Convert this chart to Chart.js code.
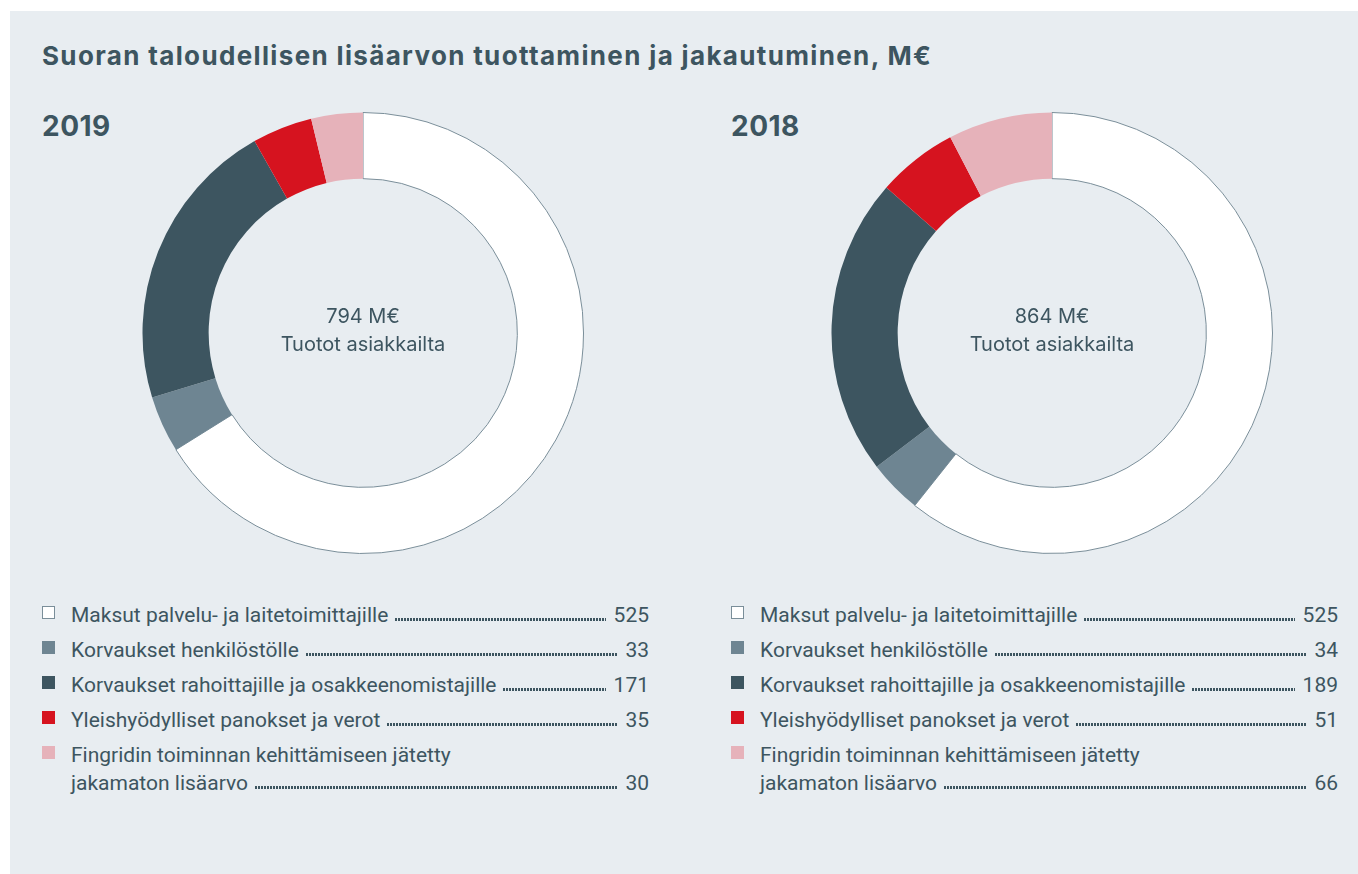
<!DOCTYPE html>
<html>
<head>
<meta charset="utf-8">
<script src="https://cdn.jsdelivr.net/npm/chart.js@4/dist/chart.umd.min.js"></script>
<style>
  body { margin: 0; background: #fff; font-family: Inter, Roboto, sans-serif; color: #3d5560; }
  #panel { position: absolute; left: 10px; top: 11px; width: 1348px; height: 863px; background: #e8edf1; }
  h1 { position: absolute; left: 42px; top: 40px; margin: 0; font-size: 26px; letter-spacing: 1.35px; font-weight: 700; white-space: nowrap; }
  .year { position: absolute; top: 109px; font-size: 28px; letter-spacing: 0.5px; font-weight: 700; }
  .wrap { position: absolute; top: 112px; width: 442px; height: 442px; }
  .center { position: absolute; width: 300px; text-align: center; font-size: 20px; line-height: 28px; top: 302px; }
  .legend { position: absolute; top: 594px; width: 607px; font-size: 21px; font-family: Roboto, sans-serif; }
  .row { position: relative; height: 35px; display: flex; align-items: flex-end; }
  .row.two { height: 63px; }
  .sq { position: absolute; left: 0; top: 12px; width: 13px; height: 13px; box-sizing: border-box; }
  .txt { padding-left: 29px; line-height: 28px; width: 100%; }
  .lbl { display: flex; align-items: baseline; width: 100%; }
  .dots { flex: 1; height: 3px; margin: 0 8px 0 7px; transform: translateY(-1px);
          background-image: linear-gradient(90deg, #3d5560 0 2px, transparent 2px 3px);
          background-size: 3px 3px; background-repeat: repeat-x; }
  .val { white-space: nowrap; }
</style>
</head>
<body>
<div id="panel"></div>
<h1>Suoran taloudellisen lisäarvon tuottaminen ja jakautuminen, M€</h1>

<div class="year" style="left:42px">2019</div>
<div class="year" style="left:731px">2018</div>
<div class="wrap" style="left:142px"><canvas id="c2019"></canvas></div>
<div class="wrap" style="left:831px"><canvas id="c2018"></canvas></div>
<div class="center" style="left:213px">794 M€<br>Tuotot asiakkailta</div>
<div class="center" style="left:902px">864 M€<br>Tuotot asiakkailta</div>

<div class="legend" id="leg2019" style="left:42px"></div>
<div class="legend" id="leg2018" style="left:731px"></div>

<script>
const categories = [
  'Maksut palvelu- ja laitetoimittajille',
  'Korvaukset henkilöstölle',
  'Korvaukset rahoittajille ja osakkeenomistajille',
  'Yleishyödylliset panokset ja verot',
  'Fingridin toiminnan kehittämiseen jätetty jakamaton lisäarvo'
];
const values2019 = [525, 33, 171, 35, 30];
const values2018 = [525, 34, 189, 51, 66];
const colors = ['#ffffff', '#6e8592', '#3d5560', '#d6131f', '#e6b2ba'];

function makeDoughnut(id, values) {
  new Chart(document.getElementById(id), {
    type: 'doughnut',
    data: {
      labels: categories,
      datasets: [{
        data: values,
        backgroundColor: colors,
        borderColor: '#7a8e99',
        borderWidth: [1, 0, 0, 0, 0],
        hoverOffset: 0,
        cutout: '70%'
      }]
    },
    options: {
      responsive: true,
      maintainAspectRatio: false,
      animation: false,
      layout: { padding: 0 },
      plugins: { legend: { display: false }, tooltip: { enabled: false } }
    }
  });
}
makeDoughnut('c2019', values2019);
makeDoughnut('c2018', values2018);

function makeLegend(id, values) {
  const box = document.getElementById(id);
  categories.forEach((cat, i) => {
    const row = document.createElement('div');
    const last = i === categories.length - 1;
    row.className = 'row' + (last ? ' two' : '');
    const sq = document.createElement('div');
    sq.className = 'sq';
    sq.style.background = colors[i];
    if (i === 0) sq.style.border = '1px solid #7a8e99';
    row.appendChild(sq);
    const txt = document.createElement('div');
    txt.className = 'txt';
    let name = cat;
    if (last) {
      const first = document.createElement('div');
      first.textContent = 'Fingridin toiminnan kehittämiseen jätetty';
      txt.appendChild(first);
      name = 'jakamaton lisäarvo';
    }
    const lbl = document.createElement('div');
    lbl.className = 'lbl';
    lbl.innerHTML = '<span>' + name + '</span><span class="dots"></span><span class="val">' + values[i] + '</span>';
    txt.appendChild(lbl);
    row.appendChild(txt);
    box.appendChild(row);
  });
}
makeLegend('leg2019', values2019);
makeLegend('leg2018', values2018);
</script>
</body>
</html>
